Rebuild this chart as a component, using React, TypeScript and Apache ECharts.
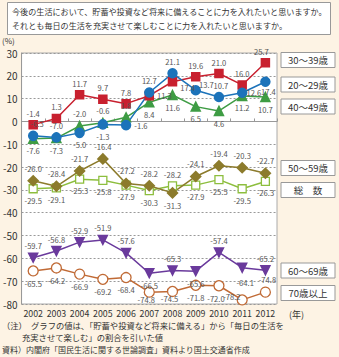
import React, { useEffect, useRef } from "react";
import * as echarts from "echarts";

const years = ["2002", "2003", "2004", "2005", "2006", "2007", "2008", "2009", "2010", "2011", "2012"];
const age30s = [-1.4, 1.3, 11.7, 9.7, 7.8, 11.3, 17.4, 19.6, 21.0, 16.0, 25.7];
const age20s = [-6.3, -7.0, -5.0, -1.3, -1.6, 12.7, 21.1, 13.7, 10.7, 12.6, 17.4];
const age40s = [-7.6, -7.3, -2.0, -0.6, 1.8, 8.4, 11.6, 6.5, 4.6, 11.2, 10.7];
const age50s = [-26.0, -28.4, -21.7, -16.4, -27.2, -28.2, -31.3, -24.1, -19.4, -20.3, -22.7];
const total = [-29.5, -29.1, -25.3, -25.8, -27.9, -30.3, -28.2, -27.9, -25.5, -29.5, -26.3];
const age60s = [-59.7, -56.8, -52.9, -51.9, -57.6, -66.5, -65.3, -65.6, -57.4, -64.1, -65.2];
const age70plus = [-65.5, -64.2, -66.9, -69.2, -68.4, -74.8, -74.5, -71.8, -72.0, -78.2, -74.8];

const seriesNames = ["30～39歳", "20～29歳", "40～49歳", "50～59歳", "総　数", "60～69歳", "70歳以上"];

const T = "top", B = "bottom", R = "right", L = "left";
const pos30 = [T, T, T, T, T, R, R, T, T, T, T];
const pos20 = [T, T, B, B, R, T, T, R, T, R, B];
const pos40 = [B, B, T, T, T, B, B, B, B, B, B];
const pos50 = [T, T, T, T, T, T, B, T, T, T, T];
const posTot = [B, B, B, B, B, B, T, B, B, B, B];
const pos60 = [T, T, T, T, T, B, T, B, T, B, T];
const pos70 = [B, B, B, B, B, B, B, B, B, L, T];
const off70: Record<number, number[]> = { 5: [-3, -5], 6: [-3, -5], 8: [-3, 0], 9: [7, -3], 10: [2, 0] };
const off60: Record<number, number[]> = { 9: [3, 3] };
const off20: Record<number, number[]> = { 0: [4, 0], 7: [-5, -6], 8: [2, 0], 9: [-4, 0], 10: [3, -2] };
const off30: Record<number, number[]> = { 6: [0, 6], 10: [-4, 0] };

const FONT = "'Noto Sans CJK JP', 'Noto Sans', sans-serif";

export default function App() {
  const ref = useRef<HTMLDivElement>(null);
  useEffect(() => {
    if (!ref.current) return;
    const chart = echarts.init(ref.current, null, { renderer: "svg" });

    const mk = (name: string, vals: number[], pos: string[], color: string, symbol: string, size: number, extra: any = {}, offs: Record<number, number[]> = {}) => ({
      name,
      type: "line",
      data: vals.map((v, i) => ({ value: v, label: { position: pos[i], offset: offs[i] || [0, 0] } })),
      symbol,
      symbolSize: size,
      lineStyle: { color, width: 1.5 },
      itemStyle: { color, borderColor: color, borderWidth: 1.5 },
      label: {
        show: true,
        fontSize: 7.6,
        color: "#555",
        fontFamily: FONT,
        distance: 3,
        formatter: (p: any) => Number(p.value).toFixed(1),
      },
      z: 3,
      ...extra,
    });

    const legendBox = (text: string, cy: number) => ({
      type: "group",
      children: [
        { type: "rect", shape: { x: 281, y: cy - 7.5, width: 54, height: 15 }, style: { fill: "#fff", stroke: "#999", lineWidth: 1 } },
        { type: "text", style: { x: 308, y: cy, text, fontSize: 9.5, fontFamily: FONT, fill: "#333", align: "center", verticalAlign: "middle" } },
      ],
    });

    chart.setOption({
      animation: false,
      backgroundColor: "#FDF3E4",
      grid: { left: 21, right: 62, top: 53, bottom: 53, show: true, backgroundColor: "#fff", borderColor: "#aaa", borderWidth: 1 },
      xAxis: {
        type: "category",
        data: years,
        boundaryGap: true,
        axisLine: { lineStyle: { color: "#999" } },
        axisTick: { show: true, inside: true, length: 3, lineStyle: { color: "#999" } },
        axisLabel: { interval: 0, fontSize: 8.8, color: "#333", fontFamily: FONT, margin: 5 },
      },
      yAxis: {
        type: "value",
        min: -80,
        max: 30,
        interval: 10,
        axisLine: { show: true, lineStyle: { color: "#999" } },
        axisTick: { show: false },
        axisLabel: { fontSize: 10, color: "#333", fontFamily: FONT, margin: 4 },
        splitLine: { lineStyle: { color: "#999", type: [2, 2], width: 1 } },
      },
      series: [
        mk(seriesNames[4], total, posTot, "#8DBE3E", "rect", 8, { itemStyle: { color: "#fff", borderColor: "#8DBE3E", borderWidth: 1.3 } }),
        mk(seriesNames[3], age50s, pos50, "#8C7B2C", "diamond", 10),
        mk(seriesNames[6], age70plus, pos70, "#C06A35", "circle", 10, { itemStyle: { color: "#fff", borderColor: "#C06A35", borderWidth: 1.3 } }, off70),
        mk(seriesNames[5], age60s, pos60, "#6A3A9C", "triangle", 9, { symbolRotate: 180 }, off60),
        mk(seriesNames[2], age40s, pos40, "#3E9C44", "triangle", 9),
        mk(seriesNames[0], age30s, pos30, "#C8202F", "rect", 8, {}, off30),
        mk(seriesNames[1], age20s, pos20, "#1C73BA", "circle", 9, {}, off20),
      ],
      graphic: [
        { type: "rect", shape: { x: 7.5, y: 2.5, width: 323, height: 32 }, style: { fill: "#fff", stroke: "#999", lineWidth: 1 } },
        { type: "text", style: { x: 12, y: 11, text: "今後の生活において、貯蓄や投資など将来に備えることに力を入れたいと思いますか。", fontSize: 8.1, fontFamily: FONT, fill: "#333", verticalAlign: "middle" } },
        { type: "text", style: { x: 12, y: 25, text: "それとも毎日の生活を充実させて楽しむことに力を入れたいと思いますか。", fontSize: 8.1, fontFamily: FONT, fill: "#333", verticalAlign: "middle" } },
        { type: "text", style: { x: 2, y: 40.5, text: "(%)", fontSize: 8, fontFamily: FONT, fill: "#333", verticalAlign: "middle" } },
        { type: "text", style: { x: 289, y: 314, text: "(年)", fontSize: 9, fontFamily: FONT, fill: "#333", verticalAlign: "middle" } },
        legendBox(seriesNames[0], 60),
        legendBox(seriesNames[1], 84.5),
        legendBox(seriesNames[2], 106.5),
        legendBox(seriesNames[3], 168),
        legendBox(seriesNames[4], 190),
        legendBox(seriesNames[5], 270.5),
        legendBox(seriesNames[6], 293),
        { type: "text", style: { x: 2, y: 325, text: "（注）　グラフの値は、「貯蓄や投資など将来に備える」から「毎日の生活を", fontSize: 8.3, fontFamily: FONT, fill: "#333", verticalAlign: "middle" } },
        { type: "text", style: { x: 22, y: 337, text: "充実させて楽しむ」の割合を引いた値", fontSize: 8.3, fontFamily: FONT, fill: "#333", verticalAlign: "middle" } },
        { type: "text", style: { x: 2, y: 349, text: "資料）内閣府「国民生活に関する世論調査」資料より国土交通省作成", fontSize: 8, fontFamily: FONT, fill: "#333", verticalAlign: "middle" } },
      ],
    });
    return () => chart.dispose();
  }, []);
  return <div ref={ref} style={{ position: "fixed", left: 0, top: 0, width: 339, height: 357 }} />;
}
